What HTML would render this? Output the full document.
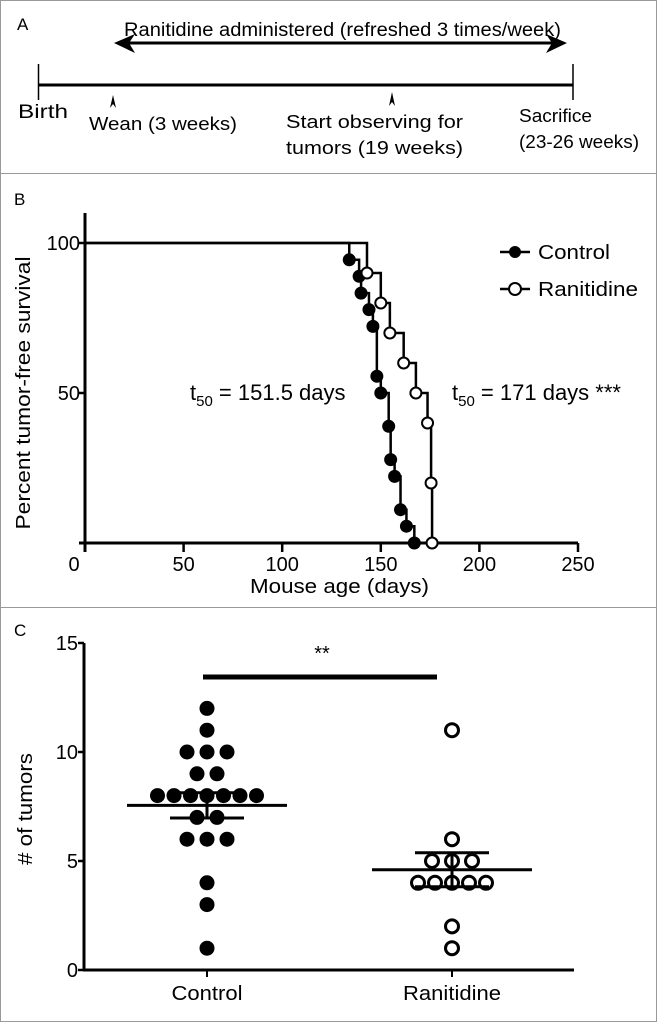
<!DOCTYPE html>
<html><head><meta charset="utf-8"><style>
html,body{margin:0;padding:0;background:#fff;}
svg{display:block;font-family:"Liberation Sans",Arial,sans-serif;}
</style></head><body>
<svg id="fig" width="657" height="1022" viewBox="0 0 657 1022" xmlns="http://www.w3.org/2000/svg">
<rect x="0.5" y="0.5" width="656" height="1021" fill="#fff" stroke="#999"/>
<line x1="0" y1="173.5" x2="657" y2="173.5" stroke="#999"/>
<line x1="0" y1="607.5" x2="657" y2="607.5" stroke="#999"/>

<g>
<text x="17" y="30" font-size="17">A</text>
<text x="124" y="36" font-size="19" textLength="437" lengthAdjust="spacingAndGlyphs">Ranitidine administered (refreshed 3 times/week)</text>
<line x1="122" y1="43" x2="560" y2="43" stroke="#000" stroke-width="3"/>
<polygon points="114,43 135,34 129,43 135,53" fill="#000"/>
<polygon points="567,43 546,34 552,43 546,53" fill="#000"/>
<line x1="38" y1="85" x2="573" y2="85" stroke="#000" stroke-width="3"/>
<line x1="38.5" y1="64" x2="38.5" y2="100" stroke="#000" stroke-width="1.5"/>
<line x1="573" y1="64" x2="573" y2="100" stroke="#000" stroke-width="1.5"/>
<polygon points="113,95 110,108 113,104 116,108" fill="#000"/>
<polygon points="392,92 389,106 392,102 395,106" fill="#000"/>
<text x="18" y="118" font-size="19" textLength="50" lengthAdjust="spacingAndGlyphs">Birth</text>
<text x="89" y="130" font-size="18" textLength="148" lengthAdjust="spacingAndGlyphs">Wean (3 weeks)</text>
<text x="286" y="128" font-size="18" textLength="177" lengthAdjust="spacingAndGlyphs">Start observing for</text>
<text x="286" y="154" font-size="18" textLength="177" lengthAdjust="spacingAndGlyphs">tumors (19 weeks)</text>
<text x="519" y="122" font-size="18" textLength="73" lengthAdjust="spacingAndGlyphs">Sacrifice</text>
<text x="519" y="148" font-size="18" textLength="120" lengthAdjust="spacingAndGlyphs">(23-26 weeks)</text>
</g>

<g id="panelB">
<text x="14" y="205" font-size="17">B</text>
<text transform="translate(30,393) rotate(-90)" text-anchor="middle" font-size="20" textLength="273" lengthAdjust="spacingAndGlyphs">Percent tumor-free survival</text>
<text x="250" y="593" font-size="20" textLength="179" lengthAdjust="spacingAndGlyphs">Mouse age (days)</text>
<text x="190" y="400" font-size="22">t<tspan font-size="15" dy="6">50</tspan><tspan dy="-6"> = 151.5 days</tspan></text>
<text x="452" y="400" font-size="22">t<tspan font-size="15" dy="6">50</tspan><tspan dy="-6"> = 171 days ***</tspan></text>
<line x1="500" y1="252" x2="530" y2="252" stroke="#000" stroke-width="2.5"/>
<circle cx="515" cy="252" r="6" fill="#000"/>
<text x="538" y="259" font-size="20" textLength="72" lengthAdjust="spacingAndGlyphs">Control</text>
<line x1="500" y1="289" x2="530" y2="289" stroke="#000" stroke-width="2.5"/>
<circle cx="515" cy="289" r="6" fill="#fff" stroke="#000" stroke-width="2"/>
<text x="538" y="296" font-size="20" textLength="100" lengthAdjust="spacingAndGlyphs">Ranitidine</text>
</g>

<g id="panelC">
<text x="14" y="636" font-size="17">C</text>
<text transform="translate(32,809) rotate(-90)" text-anchor="middle" font-size="20" textLength="112" lengthAdjust="spacingAndGlyphs"># of tumors</text>
<line x1="203" y1="677" x2="437" y2="677" stroke="#000" stroke-width="5"/>
<text x="322" y="660" text-anchor="middle" font-size="20">**</text>
</g>
</svg>
<script>
// Panel B data
const ctrlTimes = [134,139,140,144,146,148,150,154,155,157,160,163,167];
const ctrlSurv  = [94.4,88.9,83.3,77.8,72.2,55.6,50,38.9,27.8,22.2,11.1,5.6,0];
const ranTimes  = [143,150,154.6,161.6,167.8,173.7,175.5,176];
const ranSurv   = [90,80,70,60,50,40,20,0];
const bXTicks   = [0,50,100,150,200,250];
const bYTicks   = [0,50,100];
// Panel C data
const cCategories = ["Control","Ranitidine"];
const controlCounts = [12,11,10,10,10,9,9,8,8,8,8,8,8,8,7,7,6,6,6,4,3,1];
const ranitidineCounts = [11,6,5,5,5,4,4,4,4,4,2,1];
const cMeans = [7.55,4.6];
const cSems = [0.58,0.78];
const cYTicks = [0,5,10,15];

const NS="http://www.w3.org/2000/svg";
function mk(parent,tag,attrs){const e=document.createElementNS(NS,tag);for(const k in attrs)e.setAttribute(k,attrs[k]);parent.appendChild(e);return e;}

// ---- Panel B ----
const gB=document.getElementById('panelB');
const bx=v=>85+v*1.972, by=v=>543-v*3;
let e;
e=mk(gB,'line',{x1:85,y1:213,x2:85,y2:552,stroke:'#000','stroke-width':3});


e=mk(gB,'line',{x1:79,y1:543,x2:bx(250),y2:543,stroke:'#000','stroke-width':3});


bXTicks.forEach(t=>{
  if(t>0){e=mk(gB,'line',{x1:bx(t),y1:543,x2:bx(t),y2:552,stroke:'#000','stroke-width':2.5});
  
  }
  e=mk(gB,'text',{x:t===0?74:bx(t),y:571,'text-anchor':'middle','font-size':20});e.textContent=t;
  
  
});
bYTicks.forEach(t=>{
  e=mk(gB,'line',{x1:79,y1:by(t),x2:85,y2:by(t),stroke:'#000','stroke-width':2.5});
  
  
  if(t>0){e=mk(gB,'text',{x:80,y:by(t)+7,'text-anchor':'end','font-size':20});e.textContent=t;
  
  }
});
function km(times,surv,filled,name){
  let d='M'+bx(0)+' '+by(100), prev=100;
  times.forEach((t,i)=>{d+=' L'+bx(t)+' '+by(prev)+' L'+bx(t)+' '+by(surv[i]);prev=surv[i];});
  e=mk(gB,'path',{d:d,fill:'none',stroke:'#000','stroke-width':2.5});
  
  
  times.forEach((t,i)=>{
    e=mk(gB,'circle',{cx:bx(t),cy:by(surv[i]),r:5.5,fill:filled?'#000':'#fff',stroke:'#000','stroke-width':2});
    
    
  });
}
km(ctrlTimes,ctrlSurv,true,'control');
km(ranTimes,ranSurv,false,'ranitidine');

// ---- Panel C ----
const gC=document.getElementById('panelC');
const cy=v=>970-v*21.8;
const cxPos=[207,452];
e=mk(gC,'line',{x1:84,y1:cy(15),x2:84,y2:cy(0),stroke:'#000','stroke-width':3});


e=mk(gC,'line',{x1:83,y1:cy(0),x2:574,y2:cy(0),stroke:'#000','stroke-width':3});


cYTicks.forEach(t=>{
  e=mk(gC,'line',{x1:78,y1:cy(t),x2:84,y2:cy(t),stroke:'#000','stroke-width':2.5});
  
  
  e=mk(gC,'text',{x:78,y:cy(t)+7,'text-anchor':'end','font-size':20});e.textContent=t;
  
  
});
const catWidths=[71,98];
cCategories.forEach((c,i)=>{
  e=mk(gC,'line',{x1:cxPos[i],y1:cy(0),x2:cxPos[i],y2:cy(0)+7,stroke:'#000','stroke-width':2});
  
  
  e=mk(gC,'text',{x:cxPos[i]-catWidths[i]/2,y:1000,'font-size':20,textLength:catWidths[i],lengthAdjust:'spacingAndGlyphs'});e.textContent=c;
  
  
});
function scatter(vals,gi,filled,name){
  const groups={};vals.forEach(v=>{(groups[v]=groups[v]||[]).push(v);});
  Object.keys(groups).forEach(k=>{
    const n=groups[k].length;
    const sp=n>=7?16.5:(n>=5?17:20);
    groups[k].forEach((v,j)=>{
      const x=cxPos[gi]+(j-(n-1)/2)*sp;
      e=mk(gC,'circle',{cx:x,cy:cy(v),r:filled?7.5:6.5,fill:filled?'#000':'#fff',stroke:'#000','stroke-width':filled?0:3});
      
      
    });
  });
  const m=cMeans[gi],s=cSems[gi],x=cxPos[gi];
  e=mk(gC,'line',{x1:x-80,y1:cy(m),x2:x+80,y2:cy(m),stroke:'#000','stroke-width':3});
  
  
  e=mk(gC,'line',{x1:x,y1:cy(m-s),x2:x,y2:cy(m+s),stroke:'#000','stroke-width':3});
  
  
  [m-s,m+s].forEach(v=>{
    e=mk(gC,'line',{x1:x-37,y1:cy(v),x2:x+37,y2:cy(v),stroke:'#000','stroke-width':3});
    
    
  });
}
scatter(controlCounts,0,true,'control');
scatter(ranitidineCounts,1,false,'ranitidine');
</script>
</body></html>
